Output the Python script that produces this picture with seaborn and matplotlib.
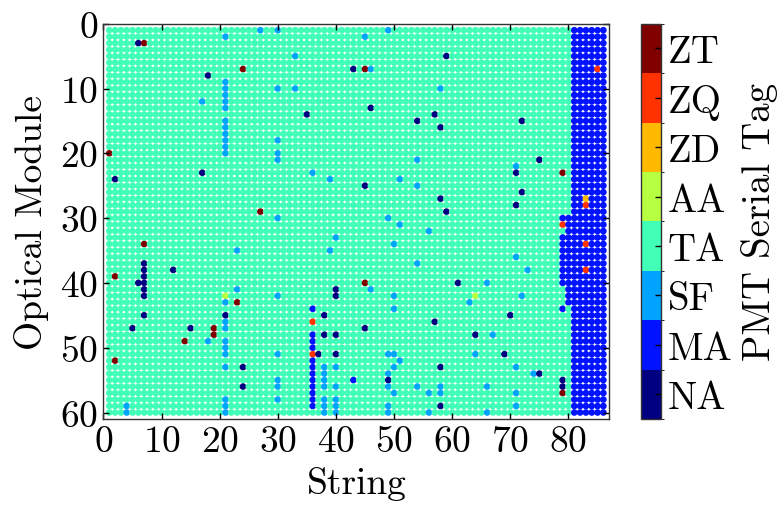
#!/usr/bin/env python3
"""PMT serial tag map: string vs optical module, coloured by tag."""

import numpy as np
import pandas as pd
import matplotlib
matplotlib.use("Agg")
import matplotlib.pyplot as plt
from matplotlib.colors import ListedColormap, BoundaryNorm
from matplotlib.cm import ScalarMappable
import seaborn as sns


TAGS = ["NA", "MA", "SF", "TA", "AA", "ZD", "ZQ", "ZT"]
N_STRINGS = 86
N_OMS = 60

# first string (per optical module row) of the DeepCore MA block, up to string 86
MA_START = [
    81, 81, 81, 81, 81, 81, 81, 81, 81, 81,
    81, 81, 81, 81, 81, 81, 81, 81, 81, 81,
    81, 81, 81, 81, 81, 81, 81, 81, 81, 79,
    80, 80, 79, 79, 79, 79, 79, 79, 79, 79,
    80, 80, 80, 81, 81, 81, 81, 81, 81, 81,
    81, 81, 81, 81, 81, 81, 81, 81, 81, 81,
]

# PMTs that differ from the TA / MA background
odd_string = [
    27, 21, 6, 7, 24, 18, 21, 21, 21, 21, 21, 21, 21, 21, 21, 21, 21, 17, 1, 17, 2, 27,
    7, 23, 7, 7, 12, 2, 7, 6, 7, 7, 23, 7, 21, 21, 23, 7, 21, 21, 5, 15, 19, 21, 19,
    14, 18, 21, 21, 21, 2, 21, 24, 24, 21, 4, 21, 4, 21,
    30, 49, 45, 33, 59, 43, 45, 46, 30, 33, 58, 46, 35, 57, 54, 58, 30, 30, 30, 54,
    36, 39, 51, 45, 54, 58, 59, 30, 49, 51,
    56, 40, 50, 39, 54, 45, 40, 46, 30, 40, 50, 36, 50, 38, 36, 57, 45, 36, 38, 40,
    36, 36, 30, 36, 37, 40, 49, 50, 36, 51, 36, 38, 40, 50, 58, 36, 38, 49, 30, 36,
    38, 43, 49, 30, 36, 38, 40, 49, 54, 58, 36, 50, 56, 58, 30, 36, 38, 40, 36, 38,
    40, 49, 58, 38, 40, 49, 56,
    85, 72, 75, 71, 71, 79, 72, 83, 71, 83, 79,
    83, 83, 71, 73, 61, 66, 64, 72, 63, 70, 64, 67, 64, 69, 71, 74, 75, 79, 66, 79,
    71, 79, 71, 66, 79,
]
odd_om = [
    1, 2, 3, 3, 7, 8, 9, 10, 11, 12, 13, 15, 16, 17, 18, 19, 20, 12, 20, 23, 24, 29,
    34, 35, 37, 38, 38, 39, 39, 40, 40, 41, 41, 42, 42, 43, 43, 45, 45, 46, 47, 47, 47, 47, 48,
    49, 49, 49, 50, 51, 52, 53, 53, 56, 58, 59, 59, 60, 60,
    1, 1, 2, 5, 5, 7, 7, 7, 10, 10, 10, 13, 14, 14, 15, 16, 18, 20, 21, 21,
    23, 24, 24, 25, 25, 27, 29, 30, 30, 31,
    32, 33, 34, 35, 37, 40, 41, 41, 42, 42, 42, 44, 44, 45, 46, 46, 47, 48, 48, 48,
    49, 50, 51, 51, 51, 51, 51, 51, 52, 52, 53, 53, 53, 53, 53, 54, 54, 54, 55, 55,
    55, 55, 55, 56, 56, 56, 56, 56, 56, 56, 57, 57, 57, 57, 58, 58, 58, 58, 59, 59,
    59, 59, 59, 60, 60, 60, 60,
    7, 15, 21, 22, 23, 23, 26, 27, 28, 28, 31,
    34, 38, 36, 38, 40, 40, 42, 42, 43, 45, 48, 48, 51, 51, 53, 54, 54, 55, 56, 56,
    57, 57, 59, 60, 44,
]
odd_tag = [
    "SF", "SF", "NA", "ZT", "ZT", "NA", "SF", "SF", "SF", "SF", "SF", "SF", "SF", "SF",
    "SF", "SF", "SF", "SF", "ZT", "NA", "NA", "ZT",
    "ZT", "SF", "NA", "NA", "NA", "ZT", "NA", "NA", "NA", "NA", "SF", "NA", "AA", "SF",
    "ZT", "NA", "NA", "SF", "NA", "NA", "ZT", "SF", "ZT",
    "ZT", "SF", "SF", "SF", "SF", "ZT", "SF", "NA", "NA", "SF", "SF", "SF", "SF", "SF",
    "SF", "SF", "SF", "SF", "NA", "NA", "ZT", "SF", "SF", "SF", "SF", "NA", "NA", "NA",
    "NA", "NA", "SF", "SF", "SF", "SF",
    "SF", "SF", "SF", "NA", "SF", "NA", "NA", "SF", "SF", "SF",
    "SF", "SF", "SF", "SF", "SF", "ZT", "NA", "SF", "SF", "NA", "SF", "MA", "SF", "NA",
    "ZQ", "NA", "NA", "MA", "NA", "NA",
    "MA", "MA", "SF", "ZQ", "NA", "NA", "SF", "SF", "MA", "SF", "MA", "SF", "SF", "SF",
    "NA", "MA", "SF", "SF", "SF", "MA",
    "SF", "MA", "NA", "SF", "MA", "SF", "SF", "SF", "SF", "SF", "MA", "SF", "SF", "SF",
    "SF", "MA", "SF", "SF", "MA", "SF",
    "SF", "SF", "NA", "SF", "SF", "SF", "SF",
    "ZQ", "NA", "NA", "SF", "NA", "ZT", "NA", "ZD", "NA", "ZQ", "ZQ",
    "ZQ", "ZQ", "SF", "SF", "NA", "SF", "AA", "SF", "SF", "NA", "NA", "SF", "SF", "NA",
    "SF", "SF", "NA", "NA", "SF", "NA",
    "SF", "ZT", "SF", "SF", "MA",
]


def main() -> None:
    plt.rcParams["font.family"] = ["cmr10"]
    plt.rcParams["mathtext.fontset"] = "cm"
    plt.rcParams["axes.formatter.use_mathtext"] = True

    grid = {}
    for om in range(1, N_OMS + 1):
        for st in range(1, N_STRINGS + 1):
            grid[(st, om)] = "MA" if st >= MA_START[om - 1] else "TA"
    for st, om, tag in zip(odd_string, odd_om, odd_tag):
        grid[(st, om)] = tag

    df = pd.DataFrame(
        [(st, om, tag) for (st, om), tag in grid.items()],
        columns=["string", "om", "tag"],
    )

    cmap = ListedColormap(plt.get_cmap("jet", len(TAGS))(np.arange(len(TAGS))))
    palette = {tag: cmap(i) for i, tag in enumerate(TAGS)}

    fig = plt.figure(figsize=(7.78, 5.10), dpi=100)
    ax = fig.add_axes([0.133, 0.1765, 0.650, 0.775])
    cax = fig.add_axes([0.8235, 0.1765, 0.0257, 0.775])

    sns.scatterplot(
        data=df, x="string", y="om", hue="tag", palette=palette,
        s=23, linewidth=0, legend=False, ax=ax,
    )

    ax.set_xlim(0, 87)
    ax.set_ylim(61, 0)
    ax.set_xticks(np.arange(0, 81, 10))
    ax.set_yticks(np.arange(0, 61, 10))
    ax.set_xlabel("String", fontsize=27, labelpad=6)
    ax.set_ylabel("Optical Module", fontsize=27, labelpad=8)
    ax.tick_params(direction="in", top=True, right=True, length=4, width=1,
                   labelsize=27, pad=4)
    for sp in ax.spines.values():
        sp.set_color("#333333")
        sp.set_linewidth(1)

    norm = BoundaryNorm(np.arange(-0.5, len(TAGS) + 0.5), len(TAGS))
    cbar = fig.colorbar(ScalarMappable(norm=norm, cmap=cmap), cax=cax,
                        ticks=np.arange(len(TAGS)))
    cbar.ax.set_yticklabels(TAGS)
    cbar.ax.tick_params(direction="in", length=4, width=1, labelsize=28, pad=5)
    cbar.outline.set_edgecolor("#333333")
    cbar.outline.set_linewidth(1)
    cbar.set_label("PMT Serial Tag", fontsize=28, labelpad=6)

    fig.savefig("out.png", dpi=100)
    plt.close(fig)


if __name__ == "__main__":
    main()
